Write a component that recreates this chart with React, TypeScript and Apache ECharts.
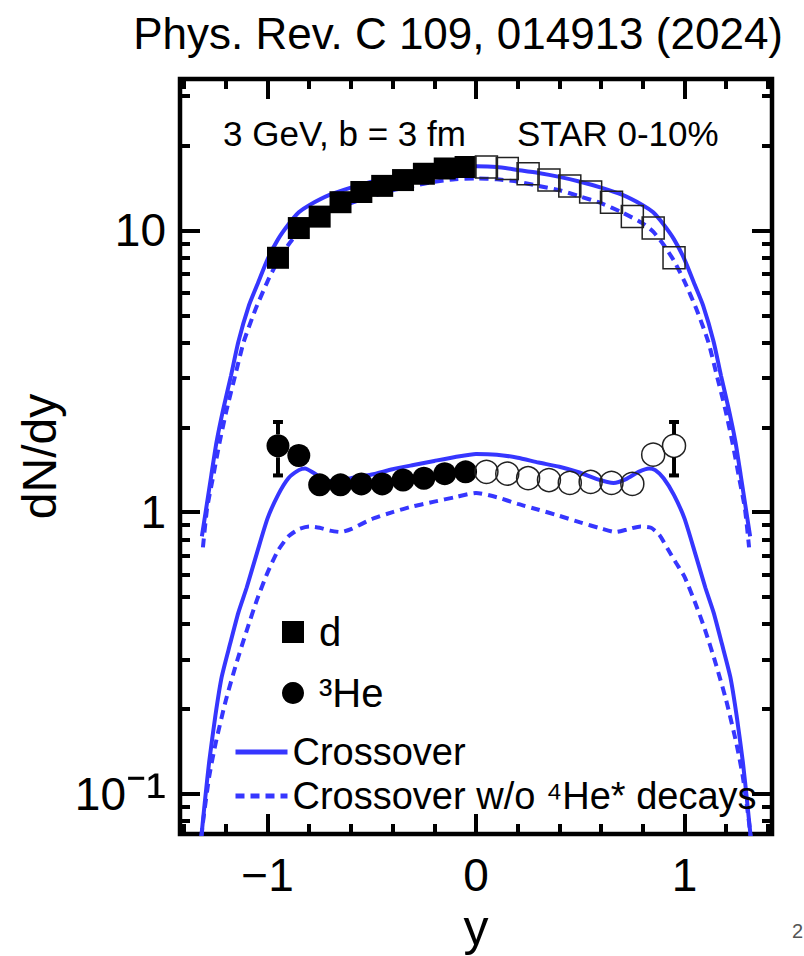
import React, { useEffect, useRef } from "react";
import * as echarts from "echarts";

// ---------- data ----------
const dRapidityNeg = [-0.95, -0.85, -0.75, -0.65, -0.55, -0.45, -0.35, -0.25, -0.15, -0.05];
const dYieldNeg = [8.0, 10.2, 11.2, 12.6, 13.7, 14.4, 15.1, 15.9, 16.6, 16.8];
const dRapidityPos = [0.05, 0.15, 0.25, 0.35, 0.45, 0.55, 0.65, 0.75, 0.85, 0.95];
const dYieldPos = [16.8, 16.6, 15.9, 15.1, 14.4, 13.7, 12.6, 11.2, 10.2, 8.0];

const heRapidityNeg = [-0.95, -0.85, -0.75, -0.65, -0.55, -0.45, -0.35, -0.25, -0.15, -0.05];
const heYieldNeg = [1.72, 1.59, 1.25, 1.25, 1.26, 1.26, 1.3, 1.32, 1.37, 1.39];
const heRapidityPos = [0.05, 0.15, 0.25, 0.35, 0.45, 0.55, 0.65, 0.75, 0.85, 0.95];
const heYieldPos = [1.39, 1.37, 1.32, 1.3, 1.27, 1.28, 1.27, 1.26, 1.6, 1.72];

const heErrRapidity = [-0.95, 0.95];
const heErrLow = [1.35, 1.35];
const heErrHigh = [2.09, 2.09];
const heErrCentral = [1.72, 1.72];

const dModelX = [-1.315, -1.27, -1.245, -1.212, -1.175, -1.14, -1.09, -1.05, -1.0, -0.95, -0.9, -0.85, -0.8, -0.7, -0.6, -0.5, -0.4, -0.3, -0.2, -0.1, 0,
  0.1, 0.2, 0.3, 0.4, 0.5, 0.6, 0.7, 0.8, 0.85, 0.9, 0.95, 1.0, 1.05, 1.09, 1.14, 1.175, 1.212, 1.245, 1.27, 1.315];
const dCrossover = [0.82, 1.35, 1.77, 2.33, 3.06, 4.03, 5.4, 6.4, 7.9, 9.3, 10.5, 11.6, 12.3, 13.4, 14.2, 14.9, 15.5, 16.0, 16.4, 16.8, 16.9,
  16.8, 16.4, 16.0, 15.5, 14.9, 14.2, 13.4, 12.3, 11.6, 10.5, 9.3, 7.9, 6.4, 5.4, 4.03, 3.06, 2.33, 1.77, 1.35, 0.82];

const dNoDecayX = [-1.31, -1.29, -1.26, -1.23, -1.195, -1.155, -1.114, -1.06, -1.0, -0.95, -0.9, -0.85, -0.8, -0.7, -0.6, -0.5, -0.4, -0.3, -0.2, -0.1, 0,
  0.1, 0.2, 0.3, 0.4, 0.5, 0.6, 0.7, 0.8, 0.85, 0.9, 0.95, 1.0, 1.06, 1.114, 1.155, 1.195, 1.23, 1.26, 1.29, 1.31];
const dNoDecay = [0.75, 1.03, 1.35, 1.77, 2.33, 3.06, 4.03, 5.2, 6.6, 7.8, 8.9, 9.9, 10.6, 11.6, 12.5, 13.2, 13.9, 14.4, 14.9, 15.2, 15.3,
  15.2, 14.9, 14.4, 13.9, 13.2, 12.5, 11.6, 10.6, 9.9, 8.9, 7.8, 6.6, 5.2, 4.03, 3.06, 2.33, 1.77, 1.35, 1.03, 0.75];

const heModelX = [-1.325, -1.3, -1.28, -1.25, -1.22, -1.18, -1.14, -1.1, -1.05, -1.0, -0.95, -0.9, -0.85, -0.82, -0.78, -0.74, -0.7, -0.65, -0.6, -0.5, -0.4, -0.3, -0.2, -0.1, 0,
  0.1, 0.2, 0.3, 0.4, 0.5, 0.58, 0.66, 0.72, 0.78, 0.83, 0.86, 0.9, 0.95, 1.0, 1.05, 1.1, 1.14, 1.18, 1.22, 1.25, 1.28, 1.3, 1.325];
const heCrossover = [0.062, 0.095, 0.13, 0.19, 0.26, 0.34, 0.44, 0.54, 0.72, 0.95, 1.15, 1.32, 1.41, 1.43, 1.38, 1.32, 1.29, 1.3, 1.32, 1.36, 1.42, 1.47, 1.52, 1.57, 1.61,
  1.6, 1.56, 1.5, 1.45, 1.38, 1.31, 1.27, 1.31, 1.39, 1.43, 1.41, 1.32, 1.15, 0.95, 0.72, 0.54, 0.44, 0.34, 0.26, 0.19, 0.13, 0.095, 0.062];

const heNoDecayX = [-1.325, -1.31, -1.28, -1.25, -1.2, -1.15, -1.1, -1.05, -1.0, -0.95, -0.9, -0.85, -0.8, -0.75, -0.7, -0.65, -0.6, -0.5, -0.4, -0.3, -0.2, -0.1, 0,
  0.1, 0.2, 0.3, 0.4, 0.5, 0.6, 0.67, 0.73, 0.79, 0.84, 0.88, 0.92, 0.96, 1.0, 1.05, 1.1, 1.15, 1.2, 1.25, 1.28, 1.31, 1.325];
const heNoDecay = [0.062, 0.079, 0.115, 0.15, 0.215, 0.29, 0.38, 0.49, 0.61, 0.73, 0.82, 0.87, 0.89, 0.88, 0.86, 0.85, 0.87, 0.945, 1.0, 1.05, 1.09, 1.13, 1.17,
  1.13, 1.07, 1.02, 0.97, 0.92, 0.875, 0.85, 0.87, 0.89, 0.88, 0.83, 0.74, 0.66, 0.59, 0.48, 0.38, 0.29, 0.215, 0.15, 0.115, 0.079, 0.062];

const xMajorTicks = [-1, 0, 1];
const xMinorTicks = [-1.4, -1.2, -0.8, -0.6, -0.4, -0.2, 0.2, 0.4, 0.6, 0.8, 1.2, 1.4];
const yMajorTicks = [0.1, 1, 10];
const yMinorTicks = [0.08, 0.09, 0.2, 0.3, 0.4, 0.5, 0.6, 0.7, 0.8, 0.9, 2, 3, 4, 5, 6, 7, 8, 9, 20, 30];

const NAME_D = "d";
const NAME_HE = "\u00B3He";
const NAME_CROSS = "Crossover";
const NAME_NODECAY = "Crossover w/o \u2074He* decays";

const FONT = "'Liberation Sans', Arial, Helvetica, sans-serif";
const BLUE = "#3636ff";

const zip = (xs: number[], ys: number[]) => xs.map((x, i) => [x, ys[i]]);

export default function App() {
  const ref = useRef<HTMLDivElement>(null);
  useEffect(() => {
    if (!ref.current) return;
    const chart = echarts.init(ref.current, undefined, { renderer: "svg" });

    const xBase: any = {
      type: "value",
      min: -1.42,
      max: 1.42,
      gridIndex: 0,
      axisLine: { show: false, onZero: false },
      splitLine: { show: false },
    };
    const yBase: any = {
      type: "log",
      logBase: 10,
      min: 0.072,
      max: 34.5,
      gridIndex: 0,
      axisLine: { show: false, onZero: false },
      splitLine: { show: false },
      minorTick: { show: false },
      minorSplitLine: { show: false },
    };
    const majorTick = (vals: number[]) => ({
      show: true,
      inside: true,
      length: 20,
      customValues: vals,
      lineStyle: { color: "#000", width: 4 },
    });
    const minorTick = (vals: number[]) => ({
      show: true,
      inside: true,
      length: 10,
      customValues: vals,
      lineStyle: { color: "#000", width: 4 },
    });

    const lineLegend = (name: string, top: number) => ({
      data: [{ name }],
      left: 233,
      top,
      itemWidth: 52,
      itemHeight: 12,
      padding: 0,
      selectedMode: false,
      itemStyle: { opacity: 0 },
      lineStyle: { width: 5 },
      textStyle: { fontSize: 38, color: "#000", fontFamily: FONT },
    });

    const option: any = {
      animation: false,
      backgroundColor: "#fff",
      textStyle: { fontFamily: FONT },
      grid: {
        left: 180,
        right: 32,
        top: 79,
        bottom: 122,
        show: true,
        borderColor: "#000",
        borderWidth: 4.5,
        backgroundColor: "transparent",
        containLabel: false,
        outerBoundsMode: "none",
      },
      xAxis: [
        {
          ...xBase,
          position: "bottom",
          axisTick: majorTick(xMajorTicks),
          axisLabel: {
            show: true,
            customValues: xMajorTicks,
            fontSize: 46,
            color: "#000",
            fontFamily: FONT,
            margin: 18,
            formatter: (v: number) => (v < 0 ? "\u2212" + Math.abs(v) : String(v)),
          },
          name: "y",
          nameLocation: "middle",
          nameGap: 58,
          nameTextStyle: { fontSize: 50, color: "#000", fontFamily: FONT },
        },
        { ...xBase, position: "bottom", axisTick: minorTick(xMinorTicks), axisLabel: { show: false } },
        { ...xBase, position: "top", axisTick: majorTick(xMajorTicks), axisLabel: { show: false } },
        { ...xBase, position: "top", axisTick: minorTick(xMinorTicks), axisLabel: { show: false } },
      ],
      yAxis: [
        {
          ...yBase,
          position: "left",
          axisTick: majorTick(yMajorTicks),
          axisLabel: {
            show: true,
            customValues: yMajorTicks,
            fontSize: 46,
            color: "#000",
            fontFamily: FONT,
            margin: 14,
            formatter: (v: number) =>
              Math.abs(v - 0.1) < 1e-9 ? "{b|10}{s|\u207B\u00B9}" : String(Math.round(v)),
            rich: {
              b: { fontSize: 46, fontFamily: FONT, color: "#000" },
              s: { fontSize: 60, fontFamily: FONT, color: "#000" },
            },
          },
          name: "dN/dy",
          nameLocation: "middle",
          nameGap: 102,
          nameRotate: 90,
          nameTextStyle: { fontSize: 48, color: "#000", fontFamily: FONT },
        },
        { ...yBase, position: "left", axisTick: minorTick(yMinorTicks), axisLabel: { show: false } },
        { ...yBase, position: "right", axisTick: majorTick(yMajorTicks), axisLabel: { show: false } },
        { ...yBase, position: "right", axisTick: minorTick(yMinorTicks), axisLabel: { show: false } },
      ],
      legend: [
        {
          data: [{ name: NAME_D, icon: "rect" }],
          left: 282,
          top: 612,
          itemWidth: 22,
          itemHeight: 22,
          padding: 0,
          selectedMode: false,
          textStyle: { fontSize: 40, color: "#000", fontFamily: FONT, padding: [0, 0, 4, 10] },
        },
        {
          data: [{ name: NAME_HE, icon: "circle" }],
          left: 282,
          top: 673,
          itemWidth: 22,
          itemHeight: 22,
          padding: 0,
          selectedMode: false,
          textStyle: { fontSize: 40, color: "#000", fontFamily: FONT, padding: [0, 0, 0, 10] },
        },
        lineLegend(NAME_CROSS, 733),
        lineLegend(NAME_NODECAY, 777),
      ],
      graphic: [
        {
          type: "text",
          x: 783,
          y: 33,
          style: { text: "Phys. Rev. C 109, 014913 (2024)", fontSize: 44, fontFamily: FONT, fill: "#000", align: "right", verticalAlign: "middle" },
        },
        {
          type: "text",
          x: 223,
          y: 133,
          style: { text: "3 GeV, b = 3 fm", fontSize: 35, fontFamily: FONT, fill: "#000", align: "left", verticalAlign: "middle" },
        },
        {
          type: "text",
          x: 517,
          y: 133,
          style: { text: "STAR 0-10%", fontSize: 35, fontFamily: FONT, fill: "#000", align: "left", verticalAlign: "middle" },
        },
        {
          type: "text",
          x: 792,
          y: 931,
          style: { text: "2", fontSize: 20, fontFamily: FONT, fill: "#555", align: "left", verticalAlign: "middle" },
        },
      ],
      series: [
        {
          name: NAME_CROSS,
          type: "line",
          data: zip(dModelX, dCrossover),
          symbol: "none",
          showSymbol: false,
          smooth: 0.2,
          lineStyle: { color: BLUE, width: 4 },
          itemStyle: { color: BLUE },
          z: 2,
        },
        {
          name: NAME_CROSS,
          type: "line",
          data: zip(heModelX, heCrossover),
          symbol: "none",
          showSymbol: false,
          smooth: 0.2,
          lineStyle: { color: BLUE, width: 4 },
          itemStyle: { color: BLUE },
          z: 2,
        },
        {
          name: NAME_NODECAY,
          type: "line",
          data: zip(dNoDecayX, dNoDecay),
          symbol: "none",
          showSymbol: false,
          smooth: 0.2,
          lineStyle: { color: BLUE, width: 4, type: [9, 6] },
          itemStyle: { color: BLUE },
          z: 2,
        },
        {
          name: NAME_NODECAY,
          type: "line",
          data: zip(heNoDecayX, heNoDecay),
          symbol: "none",
          showSymbol: false,
          smooth: 0.2,
          lineStyle: { color: BLUE, width: 4, type: [9, 6] },
          itemStyle: { color: BLUE },
          z: 2,
        },
        {
          name: NAME_D,
          type: "scatter",
          symbol: "rect",
          symbolSize: 22,
          data: zip(dRapidityNeg, dYieldNeg),
          itemStyle: { color: "#000", opacity: 1 },
          z: 4,
        },
        {
          name: "d (reflected)",
          type: "scatter",
          symbol: "rect",
          symbolSize: 22,
          data: zip(dRapidityPos, dYieldPos),
          itemStyle: { color: "rgba(0,0,0,0)", borderColor: "#222", borderWidth: 1.5, opacity: 1 },
          z: 4,
        },
        {
          name: NAME_HE,
          type: "scatter",
          symbol: "circle",
          symbolSize: 23,
          data: zip(heRapidityNeg, heYieldNeg),
          itemStyle: { color: "#000", opacity: 1 },
          z: 4,
        },
        {
          name: "3He (reflected)",
          type: "scatter",
          symbol: "circle",
          symbolSize: 23,
          data: zip(heRapidityPos, heYieldPos),
          itemStyle: { color: "rgba(0,0,0,0)", borderColor: "#222", borderWidth: 1.5, opacity: 1 },
          z: 4,
        },
        {
          name: "3He errors",
          type: "custom",
          data: heErrRapidity.map((x, i) => [x, heErrLow[i], heErrHigh[i], heErrCentral[i]]),
          encode: { x: 0, y: [1, 2, 3] },
          z: 5,
          renderItem: (params: any, api: any) => {
            const x = api.value(0);
            const lo = api.coord([x, api.value(1)]);
            const hi = api.coord([x, api.value(2)]);
            const c = api.coord([x, api.value(3)]);
            const r = 11.5;
            const hw = 5;
            const st = { stroke: "#000", lineWidth: 4 };
            return {
              type: "group",
              children: [
                { type: "line", shape: { x1: lo[0], y1: lo[1], x2: c[0], y2: c[1] + r }, style: st },
                { type: "line", shape: { x1: c[0], y1: c[1] - r, x2: hi[0], y2: hi[1] }, style: st },
                { type: "line", shape: { x1: lo[0] - hw, y1: lo[1], x2: lo[0] + hw, y2: lo[1] }, style: st },
                { type: "line", shape: { x1: hi[0] - hw, y1: hi[1], x2: hi[0] + hw, y2: hi[1] }, style: st },
              ],
            };
          },
        },
      ],
    };

    chart.setOption(option);
    return () => chart.dispose();
  }, []);

  return (
    <div
      ref={ref}
      style={{ position: "absolute", left: 0, top: 0, width: 804, height: 956, background: "#fff" }}
    />
  );
}
